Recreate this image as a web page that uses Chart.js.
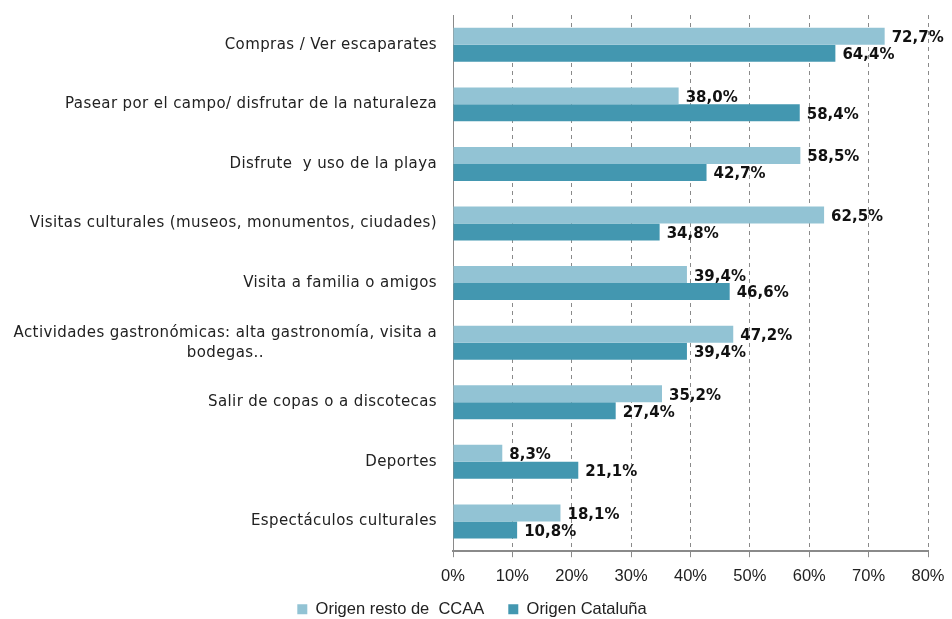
<!DOCTYPE html>
<html>
<head>
<meta charset="utf-8">
<script src="https://cdn.jsdelivr.net/npm/chart.js@4"></script>
<style>
  html, body { margin: 0; padding: 0; background: #fff; }
  #wrap { width: 952px; height: 619px; }
</style>
</head>
<body>
<div id="wrap"><canvas id="chart" width="952" height="619"></canvas></div>
<script>
const categories = [
  ["Compras / Ver escaparates"],
  ["Pasear por el campo/ disfrutar de la naturaleza"],
  ["Disfrute  y uso de la playa"],
  ["Visitas culturales (museos, monumentos, ciudades)"],
  ["Visita a familia o amigos"],
  ["Actividades gastronómicas: alta gastronomía, visita a", "bodegas.."],
  ["Salir de copas o a discotecas"],
  ["Deportes"],
  ["Espectáculos culturales"]
];
const seriesNames = ["Origen resto de  CCAA", "Origen Cataluña"];
const restoCCAA = [72.7, 38.0, 58.5, 62.5, 39.4, 47.2, 35.2, 8.3, 18.1];
const cataluna = [64.4, 58.4, 42.7, 34.8, 46.6, 39.4, 27.4, 21.1, 10.8];
const xTicks = [0, 10, 20, 30, 40, 50, 60, 70, 80];

const LIGHT = "#92C3D4";
const DARK = "#4397B0";

/* category labels, lines centred on each other like the original */
const catLabels = {
  id: "catLabels",
  afterDraw(chart) {
    const c = chart.ctx, y = chart.scales.y;
    c.save();
    c.font = "15px 'DejaVu Sans'";
    c.letterSpacing = "0.4px";
    c.fillStyle = "#222";
    c.textBaseline = "middle";
    categories.forEach((lines, i) => {
      const py = y.getPixelForTick(i);
      const right = chart.chartArea.left - 16;
      const widths = lines.map(l => c.measureText(l).width);
      const maxW = Math.max(...widths);
      const lh = 20;
      const top = py - (lines.length - 1) * lh / 2;
      lines.forEach((l, j) => {
        c.textAlign = "center";
        c.fillText(l, right - maxW / 2, top + j * lh);
      });
    });
    c.restore();
  }
};

/* value labels at the end of each bar */
const valueLabels = {
  id: "valueLabels",
  afterDatasetsDraw(chart) {
    const c = chart.ctx;
    c.save();
    c.font = "bold 15px 'DejaVu Sans'";
    c.fillStyle = "#111";
    c.textBaseline = "middle";
    c.textAlign = "left";
    chart.data.datasets.forEach((ds, di) => {
      chart.getDatasetMeta(di).data.forEach((bar, i) => {
        c.fillText(ds.data[i].toFixed(1).replace(".", ",") + "%", bar.x + 7, bar.y + 2);
      });
    });
    c.restore();
  }
};

/* keep the legend short in the layout, then place its row at y~608 */
const legendSpot = {
  id: "legendSpot",
  afterInit(chart) {
    const lg = chart.legend;
    const fit = lg.fit;
    lg.fit = function () { fit.call(this); this.height = 30; };
  },
  afterLayout(chart) {
    const lg = chart.legend;
    lg.top = 577;
    lg.bottom = 619;
    lg.height = 42;
    lg.left += 8;
    lg.right += 8;
  }
};

new Chart(document.getElementById("chart"), {
  type: "bar",
  data: {
    labels: categories,
    datasets: [
      { label: seriesNames[0], data: restoCCAA, backgroundColor: LIGHT, categoryPercentage: 0.57, barPercentage: 1 },
      { label: seriesNames[1], data: cataluna, backgroundColor: DARK, categoryPercentage: 0.57, barPercentage: 1 }
    ]
  },
  options: {
    indexAxis: "y",
    responsive: false,
    animation: false,
    layout: { padding: { top: 15, right: 24, bottom: -6, left: 0 } },
    scales: {
      x: {
        min: 0,
        max: 80,
        afterBuildTicks: s => { s.ticks = xTicks.map(v => ({ value: v })); },
        afterFit: s => { s.paddingRight = 0; },
        ticks: {
          callback: v => v + "%",
          color: "#222",
          font: { family: "'Liberation Sans'", size: 16.5 },
          padding: 9
        },
        grid: { color: "#8a8a8a", tickLength: 6, tickColor: "#8a8a8a" },
        border: { color: "#8a8a8a", width: 2 }
      },
      y: {
        afterFit: s => { s.width = 453; },
        ticks: { display: false },
        grid: { display: false, drawTicks: false },
        border: { color: "#8a8a8a", width: 1 }
      }
    },
    plugins: {
      legend: {
        position: "bottom",
        labels: {
          boxWidth: 10,
          boxHeight: 10,
          color: "#222",
          font: { family: "'Liberation Sans'", size: 16.5 },
          padding: 24
        }
      },
      tooltip: { enabled: false }
    }
  },
  plugins: [catLabels, valueLabels, legendSpot, {
    id: "dashGrid",
    beforeInit(chart) {
      chart.options.scales.x.grid.borderDash = [4, 4];
      chart.options.scales.x.border.dash = [4, 4];
    }
  }]
});
</script>
</body>
</html>
